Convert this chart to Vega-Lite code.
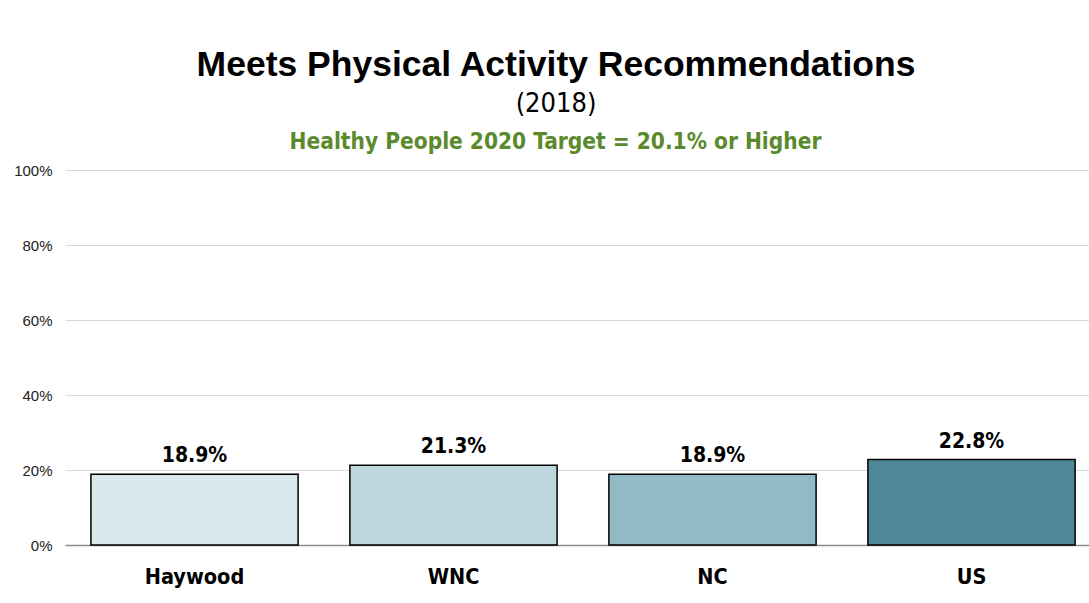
{
  "$schema": "https://vega.github.io/schema/vega-lite/v6.json",
  "autosize": {"type": "none"},
  "padding": {"left": 65, "top": 170, "right": 0, "bottom": 58},
  "width": 1036,
  "height": 375,
  "background": "white",
  "title": {
    "text": "Meets Physical Activity Recommendations",
    "subtitle": "(2018)",
    "anchor": "middle",
    "dx": -27,
    "font": "Liberation Sans",
    "fontSize": 35.5,
    "fontWeight": "bold",
    "color": "#000000",
    "subtitleFont": "DejaVu Sans Condensed, Liberation Sans",
    "subtitleFontSize": 27,
    "subtitleColor": "#000000",
    "subtitlePadding": 8,
    "offset": 13
  },
  "data": {
    "values": [
      {"region": "Haywood", "value": 0.189, "label": "18.9%"},
      {"region": "WNC", "value": 0.213, "label": "21.3%"},
      {"region": "NC", "value": 0.189, "label": "18.9%"},
      {"region": "US", "value": 0.228, "label": "22.8%"}
    ]
  },
  "encoding": {
    "x": {
      "field": "region",
      "type": "nominal",
      "sort": ["Haywood", "WNC", "NC", "US"],
      "scale": {"paddingInner": 0.2, "paddingOuter": 0.1}
    },
    "y": {
      "field": "value",
      "type": "quantitative",
      "scale": {"domain": [0, 1]}
    }
  },
  "layer": [
    {
      "mark": {"type": "bar", "stroke": "#000000", "strokeWidth": 1.5},
      "encoding": {
        "x": {
          "field": "region",
          "type": "nominal",
          "sort": ["Haywood", "WNC", "NC", "US"],
          "axis": {
            "orient": "bottom",
            "title": null,
            "labelAngle": 0,
            "labelFont": "DejaVu Sans Condensed, Liberation Sans",
            "labelFontSize": 21.5,
            "labelFontWeight": "bold",
            "labelColor": "#000000",
            "labelPadding": 21,
            "ticks": false,
            "domain": true,
            "domainColor": "#8c8c8c",
            "domainWidth": 1.5
          }
        },
        "y": {
          "field": "value",
          "type": "quantitative",
          "axis": {
            "format": ".0%",
            "values": [0, 0.2, 0.4, 0.6, 0.8, 1],
            "title": null,
            "domain": false,
            "ticks": false,
            "labelFont": "Liberation Sans",
            "labelFontSize": 15,
            "labelColor": "#222222",
            "labelPadding": 13,
            "gridColor": "#d9d9d9",
            "gridWidth": 1
          }
        },
        "color": {
          "field": "region",
          "type": "nominal",
          "legend": null,
          "scale": {
            "domain": ["Haywood", "WNC", "NC", "US"],
            "range": ["#dbe8ec", "#bed7dd", "#92b9c6", "#4e8898"]
          }
        }
      }
    },
    {
      "mark": {
        "type": "text",
        "baseline": "bottom",
        "dy": -8,
        "font": "DejaVu Sans Condensed, Liberation Sans",
        "fontSize": 21,
        "fontWeight": "bold",
        "color": "#000000"
      },
      "encoding": {
        "x": {
          "field": "region",
          "type": "nominal",
          "sort": ["Haywood", "WNC", "NC", "US"],
          "axis": {
            "orient": "top",
            "title": "Healthy People 2020 Target = 20.1% or Higher",
            "titleFont": "DejaVu Sans Condensed, Liberation Sans",
            "titleFontSize": 22.5,
            "titleFontWeight": "bold",
            "titleColor": "#5b8a2d",
            "titleX": 490,
            "titleAlign": "center",
            "titlePadding": 17,
            "labels": false,
            "ticks": false,
            "domain": false,
            "grid": false
          }
        },
        "text": {"field": "label"}
      }
    }
  ],
  "resolve": {"axis": {"x": "independent"}},
  "config": {"view": {"stroke": null}}
}
